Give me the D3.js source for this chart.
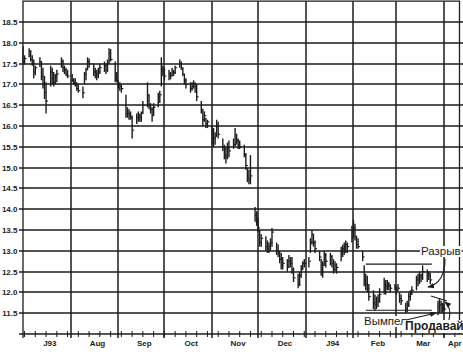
<!DOCTYPE html>
<html>
<head>
<meta charset="utf-8">
<script src="https://cdn.jsdelivr.net/npm/d3@7"></script>
<style>
  body { margin: 0; background: #fff; }
  svg { display: block; }
</style>
</head>
<body>
<div id="chart"></div>
<script>
// month axis
const monthLabels = ["J93", "Aug", "Sep", "Oct", "Nov", "Dec", "J94", "Feb", "Mar", "Apr"];
const monthStarts = ["1993-07-01", "1993-08-01", "1993-09-01", "1993-10-01", "1993-11-01",
  "1993-12-01", "1994-01-01", "1994-02-01", "1994-03-01", "1994-04-01"];
const priceTicks = [11.5, 12.0, 12.5, 13.0, 13.5, 14.0, 14.5, 15.0, 15.5, 16.0, 16.5, 17.0, 17.5, 18.0, 18.5];

// daily bars, one per weekday of the month: [high, low, close]
const jul93 = [[17.92, 17.50, 17.55], [17.70, 17.48, 17.62], [17.87, 17.65, 17.80], [17.82, 17.55, 17.60],
  [17.70, 17.45, 17.50], [17.60, 17.15, 17.30], [17.45, 17.22, 17.40], [17.65, 17.42, 17.55],
  [17.55, 17.10, 17.20], [17.40, 16.90, 17.00], [17.20, 16.65, 16.80], [17.05, 16.30, 16.60],
  [17.45, 16.95, 17.30], [17.40, 17.00, 17.15], [17.30, 16.95, 17.05], [17.25, 17.00, 17.20],
  [17.35, 17.05, 17.25], [17.65, 17.40, 17.55], [17.60, 17.30, 17.40], [17.45, 17.25, 17.35],
  [17.40, 17.20, 17.25], [17.35, 17.15, 17.20]];
const aug93 = [[17.25, 17.05, 17.10], [17.15, 17.00, 17.05], [17.15, 16.95, 17.00], [17.05, 16.85, 16.90],
  [17.00, 16.80, 16.85], [16.95, 16.67, 16.80], [17.30, 17.00, 17.25], [17.40, 17.10, 17.35],
  [17.65, 17.35, 17.55], [17.62, 17.40, 17.50], [17.50, 17.20, 17.30], [17.40, 17.15, 17.20],
  [17.35, 17.10, 17.25], [17.40, 17.15, 17.30], [17.50, 17.25, 17.40], [17.55, 17.30, 17.45],
  [17.50, 17.25, 17.35], [17.60, 17.30, 17.50], [17.87, 17.50, 17.75], [17.85, 17.55, 17.60],
  [17.55, 17.05, 17.15], [17.30, 17.05, 17.10]];
const sep93 = [[17.10, 16.90, 17.00], [17.05, 16.85, 16.95], [17.00, 16.80, 16.90], [16.75, 16.20, 16.30],
  [16.45, 16.20, 16.30], [16.40, 16.15, 16.25], [16.35, 16.15, 16.20], [16.25, 15.70, 15.90],
  [16.30, 16.05, 16.20], [16.35, 16.10, 16.25], [16.30, 16.10, 16.20], [16.35, 16.10, 16.30],
  [16.60, 16.30, 16.50], [17.05, 16.45, 16.75], [16.75, 16.40, 16.50], [16.55, 16.30, 16.40],
  [16.45, 16.10, 16.25], [16.55, 16.25, 16.45], [16.80, 16.45, 16.70], [16.85, 16.55, 16.75],
  [17.65, 16.95, 17.35], [17.45, 17.20, 17.30]];
const oct93 = [[17.40, 17.10, 17.20], [17.35, 17.10, 17.25], [17.30, 17.12, 17.20], [17.40, 17.20, 17.30],
  [17.35, 17.20, 17.28], [17.45, 17.25, 17.40], [17.60, 17.40, 17.50], [17.55, 17.35, 17.40],
  [17.40, 17.20, 17.25], [17.25, 17.00, 17.10], [17.15, 16.90, 17.00], [17.05, 16.80, 16.90],
  [17.05, 16.85, 16.95], [17.10, 16.90, 17.00], [17.05, 16.80, 16.95], [17.00, 16.60, 16.70],
  [16.60, 16.30, 16.40], [16.40, 16.00, 16.15], [16.35, 16.10, 16.25], [16.20, 15.95, 16.05],
  [16.15, 15.95, 16.10]];
const nov93 = [[16.00, 15.55, 15.65], [15.95, 15.50, 15.70], [15.85, 15.55, 15.75], [16.15, 15.75, 16.00],
  [16.10, 15.70, 15.80], [15.70, 15.40, 15.50], [15.55, 15.20, 15.30], [15.50, 15.10, 15.25],
  [15.60, 15.20, 15.45], [15.65, 15.25, 15.40], [15.70, 15.45, 15.55], [15.95, 15.50, 15.80],
  [15.80, 15.55, 15.65], [15.70, 15.45, 15.55], [15.65, 15.45, 15.50], [15.55, 15.25, 15.30],
  [15.35, 14.95, 15.05], [15.00, 14.65, 14.75], [14.95, 14.60, 14.70], [15.30, 14.60, 14.80],
  [14.05, 13.70, 13.85], [13.95, 13.60, 13.70]];
const dec93 = [[13.80, 13.45, 13.55], [13.50, 13.10, 13.20], [13.40, 13.10, 13.30], [13.35, 13.00, 13.10],
  [13.25, 12.95, 13.05], [13.20, 12.95, 13.10], [13.30, 13.00, 13.20], [13.55, 13.10, 13.45],
  [13.20, 12.90, 13.00], [13.15, 12.85, 12.95], [13.00, 12.70, 12.80], [12.95, 12.55, 12.65],
  [12.85, 12.55, 12.70], [12.80, 12.50, 12.60], [12.90, 12.60, 12.75], [12.85, 12.60, 12.70],
  [12.85, 12.45, 12.55], [12.60, 12.25, 12.35], [12.45, 12.10, 12.20], [12.50, 12.15, 12.40],
  [12.65, 12.35, 12.55], [12.75, 12.55, 12.70], [12.80, 12.60, 12.70]];
const jan94 = [[12.85, 12.60, 12.75], [13.30, 12.95, 13.20], [13.50, 13.15, 13.40], [13.40, 13.10, 13.20],
  [13.25, 12.95, 13.05], [13.00, 12.75, 12.85], [12.80, 12.40, 12.50], [12.75, 12.35, 12.65],
  [13.00, 12.65, 12.90], [12.95, 12.60, 12.75], [12.95, 12.65, 12.85], [12.90, 12.60, 12.70],
  [12.80, 12.45, 12.55], [12.75, 12.50, 12.65], [12.70, 12.45, 12.60], [13.10, 12.75, 12.95],
  [13.15, 12.85, 13.05], [13.20, 12.90, 13.10], [13.25, 12.95, 13.15], [13.20, 12.95, 13.10],
  [13.60, 13.20, 13.45]];
const feb94 = [[13.75, 13.30, 13.55], [13.65, 13.25, 13.35], [13.35, 13.05, 13.15], [13.30, 13.05, 13.10],
  [13.00, 12.75, 12.85], [12.65, 12.15, 12.30], [12.45, 12.05, 12.20], [12.40, 12.00, 12.10],
  [12.20, 11.80, 11.90], [12.05, 11.60, 11.75], [11.95, 11.55, 11.70], [11.90, 11.60, 11.80],
  [11.95, 11.65, 11.85], [12.10, 11.75, 11.95], [12.35, 11.95, 12.20], [12.30, 11.95, 12.15],
  [12.30, 12.05, 12.20], [12.25, 12.05, 12.15], [12.20, 12.00, 12.10], [12.20, 12.05, 12.10]];
const mar94 = [[12.15, 11.95, 12.05], [12.20, 12.05, 12.10], [12.00, 11.75, 11.85], [11.95, 11.70, 11.80],
  [11.75, 11.50, 11.60], [11.80, 11.52, 11.70], [12.00, 11.65, 11.90], [12.05, 11.80, 11.95],
  [12.15, 11.95, 12.05], [12.40, 12.05, 12.30], [12.45, 12.15, 12.35], [12.50, 12.20, 12.40],
  [12.45, 12.25, 12.35], [12.65, 12.30, 12.50], [12.55, 12.25, 12.40], [12.50, 12.30, 12.45],
  [12.45, 12.20, 12.30]];
// hand-drawn pennant bars after the last real bar (from Mar 28)
const pennantBars = [[11.80, 11.45, 11.65], [11.85, 11.50, 11.70], [11.80, 11.52, 11.72],
  [11.75, 11.50, 11.62], [11.72, 11.55, 11.60]];

const months = [jul93, aug93, sep93, oct93, nov93, dec93, jan94, feb94, mar94];
const resistance = { from: "1994-02-09", to: "1994-03-24", price: 12.68 };
const support = { from: "1994-02-09", to: "1994-03-24", price: 11.57 };

const parse = d3.timeParse("%Y-%m-%d");
const weekdays = (start, n) =>
  d3.timeDay.range(start, d3.timeDay.offset(start, 45))
    .filter((d) => d.getDay() > 0 && d.getDay() < 6)
    .slice(0, n);

const bars = [];
months.forEach((m, i) => {
  weekdays(parse(monthStarts[i]), m.length).forEach((d, j) => {
    bars.push({ date: d, hi: m[j][0], lo: m[j][1], cl: m[j][2] });
  });
});
const sketch = weekdays(parse("1994-03-28"), pennantBars.length).map((d, j) => ({
  date: d, hi: pennantBars[j][0], lo: pennantBars[j][1], cl: pennantBars[j][2],
}));

const width = 463, height = 352;
const svg = d3.select("#chart").append("svg")
  .attr("width", width).attr("height", height);

const x = d3.scaleTime().domain([new Date(1993, 6, 1), new Date(1994, 3, 11)]).range([23, 459.5]);
const y = d3.scaleLinear().domain([11, 19]).range([334, 1.2]);
const ink = "#1c1c1c";

// grid as thin filled bands
const grid = svg.append("g");
grid.selectAll(".hgrid")
  .data(priceTicks)
  .join("rect")
  .attr("class", "hgrid")
  .attr("x", 19).attr("width", width - 19)
  .attr("y", (d) => Math.round(y(d)) - 0.75).attr("height", 1.5)
  .attr("fill", ink);
grid.selectAll(".vgrid")
  .data(monthStarts.slice(1).map(parse))
  .join("rect")
  .attr("class", "vgrid")
  .attr("x", (d) => Math.round(x(d)) - 0.75).attr("width", 1.5)
  .attr("y", y(19)).attr("height", 338 - y(19))
  .attr("fill", ink);

// frame
svg.append("path")
  .attr("d", `M23,338V${y(19)}H459.5V${y(11)}`)
  .attr("stroke", ink).attr("stroke-width", 1.3).attr("fill", "none");
svg.append("path")
  .attr("d", `M19,${y(11)}H${width}`)
  .attr("stroke", ink).attr("stroke-width", 1.4).attr("fill", "none");

// weekly ticks
svg.append("g")
  .selectAll("line")
  .data(d3.timeFriday.range(new Date(1993, 6, 1), new Date(1994, 3, 11)))
  .join("line")
  .attr("x1", (d) => x(d)).attr("x2", (d) => x(d))
  .attr("y1", y(11) - 3).attr("y2", y(11) + 3)
  .attr("stroke", ink).attr("stroke-width", 1);

// y labels
svg.append("g")
  .selectAll("text")
  .data(priceTicks)
  .join("text")
  .attr("x", 17.5).attr("y", (d) => y(d) + 3)
  .attr("text-anchor", "end")
  .attr("font-family", "Liberation Sans, Arial, sans-serif")
  .attr("font-size", 8).attr("font-weight", "bold")
  .attr("fill", ink)
  .text((d) => d.toFixed(1));

// month labels
const domainEnd = x.domain()[1];
svg.append("g")
  .selectAll("text")
  .data(monthLabels)
  .join("text")
  .attr("x", (d, i) => {
    const a = parse(monthStarts[i]);
    const b = i + 1 < monthStarts.length ? parse(monthStarts[i + 1]) : domainEnd;
    return (x(a) + x(b)) / 2 + 3;
  })
  .attr("y", 346)
  .attr("text-anchor", "middle")
  .attr("font-family", "Liberation Sans, Arial, sans-serif")
  .attr("font-size", 8).attr("font-weight", "bold")
  .attr("fill", ink)
  .text((d) => d);

// price bars
const drawBars = (data) => {
  const g = svg.append("g");
  g.selectAll(".hl")
    .data(data)
    .join("line")
    .attr("class", "hl")
    .attr("x1", (d) => x(d.date)).attr("x2", (d) => x(d.date))
    .attr("y1", (d) => y(d.hi)).attr("y2", (d) => y(d.lo))
    .attr("stroke", ink).attr("stroke-width", 1.4);
  g.selectAll(".cl")
    .data(data)
    .join("line")
    .attr("class", "cl")
    .attr("x1", (d) => x(d.date)).attr("x2", (d) => x(d.date) + 2)
    .attr("y1", (d) => y(d.cl)).attr("y2", (d) => y(d.cl))
    .attr("stroke", ink).attr("stroke-width", 1.1);
};
drawBars(bars);
drawBars(sketch);

// annotations
const defs = svg.append("defs");
defs.append("marker")
  .attr("id", "arrow")
  .attr("viewBox", "0 0 10 10")
  .attr("refX", 9).attr("refY", 5)
  .attr("markerWidth", 6).attr("markerHeight", 6)
  .attr("orient", "auto")
  .append("path")
  .attr("d", "M0,1 L10,5 L0,9 Z")
  .attr("fill", ink);

[resistance, support].forEach((l) => {
  svg.append("line")
    .attr("x1", x(parse(l.from))).attr("x2", x(parse(l.to)))
    .attr("y1", y(l.price)).attr("y2", y(l.price))
    .attr("stroke", ink).attr("stroke-width", 1.1);
});

const label = (txt, tx, ty, size, weight) => {
  const t = svg.append("text")
    .attr("x", tx).attr("y", ty)
    .attr("font-family", "Liberation Sans, Arial, sans-serif")
    .attr("font-size", size).attr("font-weight", weight)
    .attr("fill", ink)
    .text(txt);
  const b = t.node().getBBox();
  svg.insert("rect", () => t.node())
    .attr("x", b.x - 1).attr("y", b.y + 1)
    .attr("width", b.width + 2).attr("height", b.height - 1)
    .attr("fill", "#fff");
};
label("Разрыв", 421, 255, 11.5, "normal");
label("Вымпел", 364, 325, 11.5, "normal");
label("Продавай", 405, 330, 12, "bold");

// gap arrow from "Разрыв"
svg.append("path")
  .attr("d", "M445,259 Q445,283 428,287")
  .attr("fill", "none").attr("stroke", ink).attr("stroke-width", 1.1)
  .attr("marker-end", "url(#arrow)");
// pennant upper edge
svg.append("line").attr("x1", 431).attr("y1", 296).attr("x2", 447).attr("y2", 301)
  .attr("stroke", ink).attr("stroke-width", 1.1);
// pointer from "Вымпел"
svg.append("line").attr("x1", 406).attr("y1", 320).attr("x2", 436).attr("y2", 313)
  .attr("stroke", ink).attr("stroke-width", 1.1)
  .attr("marker-end", "url(#arrow)");
// sell arrow
svg.append("path")
  .attr("d", "M449,320 Q452,308 445,302")
  .attr("fill", "none").attr("stroke", ink).attr("stroke-width", 1.1)
  .attr("marker-end", "url(#arrow)");
</script>
</body>
</html>
